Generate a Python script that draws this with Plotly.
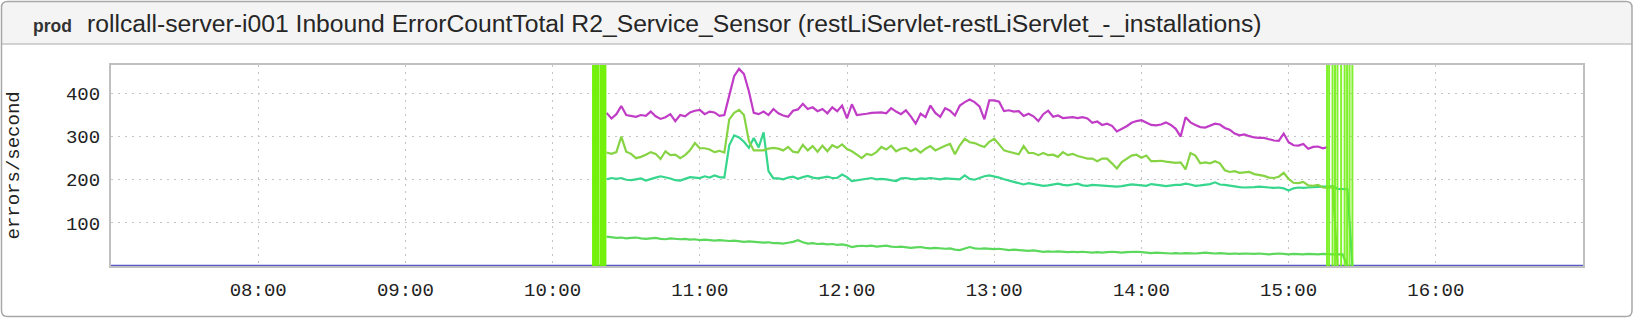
import plotly.graph_objects as go
import pandas as pd

DAY = "2015-06-01 "

# ---------------- data ----------------
# sample times every 2 minutes, 10:22 .. 15:26
times = [t.strftime("%Y-%m-%d %H:%M:%S") for t in pd.date_range(DAY + "10:22", DAY + "15:26", freq="2min")]

magenta = [
    355, 342, 352, 371, 350, 348, 346, 350, 348, 358, 347, 341, 345, 352, 336, 350, 347, 356, 360, 362,
    352, 358, 356, 348, 350, 395, 440, 457, 445, 405, 355, 352, 358, 350, 364, 354,
    349, 346, 360, 363, 376, 364, 368, 359, 364, 354, 368, 359, 372, 342, 375, 350, 351, 353, 355, 356,
    356, 354, 366, 358, 352, 361, 347, 330, 353, 345, 372, 355, 346, 366, 360, 349, 372, 380, 386, 380,
    370, 340, 384, 384, 381, 359, 361, 358, 359, 348, 353, 347, 336, 352, 360, 346, 349, 343, 344, 345,
    343, 345, 342, 332, 335, 327, 330, 325, 312, 318, 324, 332, 336, 338, 332, 327, 326, 328, 333,
    327, 318, 300, 345, 333, 327, 322, 321, 325, 330, 328, 320, 316, 307, 303, 305, 301, 298, 297, 297,
    294, 291, 290, 307, 287, 280, 279, 283, 272, 276, 277, 273, 276,
    None, None, None, None, None,
]

lightgreen = [
    263, 260, 264, 300, 265, 260, 250, 253, 258, 264, 260, 248, 266, 257, 258, 250, 257, 268, 285, 273,
    273, 270, 264, 267, 263, 340, 355, 362, 350, 290, 268, 268, 268, 272, 274, 272,
    268, 276, 265, 263, 281, 268, 278, 265, 279, 266, 280, 274, 282, 271, 266, 258, 250, 260, 257, 264,
    276, 270, 279, 266, 272, 274, 266, 272, 263, 272, 278, 268, 274, 279, 283, 259, 280, 295, 287, 285,
    280, 276, 288, 295, 282, 268, 265, 262, 259, 278, 262, 262, 257, 262, 257, 258, 253, 264, 257, 260,
    255, 252, 249, 249, 243, 249, 249, 238, 226, 241, 249, 256, 258, 251, 256, 243, 243, 244, 242,
    241, 239, 240, 224, 262, 256, 238, 240, 238, 243, 238, 222, 218, 220, 216, 217, 218, 213, 211, 209,
    205, 204, 207, 216, 202, 193, 192, 195, 187, 186, 188, 182, 181,
    184, 0, None, None, None,
]

teal = [
    201, 204, 202, 204, 200, 199, 201, 203, 198, 202, 205, 208, 206, 203, 199, 198, 202, 206, 205, 204,
    208, 205, 210, 206, 205, 280, 303, 298, 288, 274, 297, 275, 310, 220, 203, 203,
    201, 205, 207, 202, 206, 209, 205, 203, 205, 207, 204, 204, 212, 206, 197, 199, 201, 203, 204, 201,
    202, 201, 199, 197, 203, 204, 202, 201, 203, 202, 204, 202, 201, 203, 202, 201, 201, 210, 202, 200,
    204, 208, 210, 208, 205, 201, 198, 195, 191, 189, 192, 190, 188, 186, 187, 189, 191, 188, 187, 189,
    191, 187, 186, 188, 187, 186, 185, 184, 184, 185, 187, 189, 188, 187, 186, 190, 189, 187, 185,
    187, 188, 188, 191, 189, 186, 187, 188, 190, 194, 189, 188, 186, 184, 183, 182, 182, 183, 184, 183,
    182, 181, 182, 180, 175, 180, 182, 181, 182, 183, 183, 184, 184,
    185, 179, 178, 178, 0,
]

lowgreen = [
    68, 66, 65, 66, 64, 65, 66, 64, 63, 64, 65, 63, 62, 64, 63, 62, 63, 61, 62, 60,
    61, 60, 59, 60, 59, 58, 59, 57, 56, 57, 56, 55, 54, 55, 53, 53,
    52, 54, 56, 60, 55, 52, 53, 51, 52, 50, 51, 49, 50, 48, 44, 46, 47, 46, 47, 45,
    46, 47, 45, 44, 45, 43, 42, 43, 44, 42, 41, 42, 41, 40, 41, 38, 37, 40, 44, 41,
    40, 41, 40, 39, 40, 38, 37, 38, 37, 36, 35, 36, 34, 33, 34, 33, 34, 33, 32, 33,
    32, 33, 32, 31, 32, 31, 32, 33, 32, 31, 32, 33, 33, 32, 31, 30, 31, 30, 30,
    29, 30, 29, 30, 29, 29, 30, 31, 30, 29, 30, 29, 28, 29, 28, 29, 28, 28, 29, 28,
    27, 28, 29, 28, 27, 28, 27, 27, 28, 27, 27, 28, 27,
    27, 27, 27, 0, None,
]

zero_times = ["07:00", "17:00"]
zero_values = [0, 0]

start_events = ["10:17:30", "10:20:30"]
end_events = ["15:15:40", "15:16:30", "15:17:55", "15:18:55", "15:19:55",
              "15:21:25", "15:22:50", "15:23:50", "15:24:50", "15:26:00"]

xtick_labels = ["08:00", "09:00", "10:00", "11:00", "12:00", "13:00", "14:00", "15:00", "16:00"]
ytick_values = [100, 200, 300, 400]
y_max = 466

title_tag = "prod"
title_text = "rollcall-server-i001 Inbound ErrorCountTotal R2_Service_Sensor (restLiServlet-restLiServlet_-_installations)"
y_title = "errors/second"

# ---------------- figure ----------------
W, H = 1634, 318
L, R, T, B = 111, 1583, 65, 266


def px(x):
    return (x - L) / (R - L)


def py(y):
    return (B - y) / (B - T)


fig = go.Figure()

series = [
    ("zero", [DAY + t for t in zero_times], zero_values, "#5858c8", 2.5),
    ("low", times, lowgreen, "#5cd85c", 2.2),
    ("teal", times, teal, "#36d68c", 2.2),
    ("lightgreen", times, lightgreen, "#86d444", 2.2),
    ("magenta", times, magenta, "#c03cc6", 2.2),
]
for name, xs, ys, color, w in series:
    fig.add_trace(go.Scatter(x=xs, y=ys, mode="lines", name=name,
                             line=dict(color=color, width=w), connectgaps=False,
                             hoverinfo="skip", showlegend=False))

for t in start_events:
    fig.add_vline(x=DAY + t, line=dict(color="#6cf000", width=7), opacity=0.95)
for t in end_events:
    fig.add_vline(x=DAY + t, line=dict(color="#74f018", width=2), opacity=0.9)

# panel frame (rounded) and header
x0, x1, y0, y1, r = 1.5, W - 2, 1.5, H - 1.5, 6
hy = 44


def P(x, y):
    return f"{px(x):.6f},{py(y):.6f}"


panel_path = (f"M {P(x0 + r, y0)} L {P(x1 - r, y0)} Q {P(x1, y0)} {P(x1, y0 + r)} "
              f"L {P(x1, y1 - r)} Q {P(x1, y1)} {P(x1 - r, y1)} L {P(x0 + r, y1)} "
              f"Q {P(x0, y1)} {P(x0, y1 - r)} L {P(x0, y0 + r)} Q {P(x0, y0)} {P(x0 + r, y0)} Z")
header_path = (f"M {P(x0 + r, y0)} L {P(x1 - r, y0)} Q {P(x1, y0)} {P(x1, y0 + r)} "
               f"L {P(x1, hy)} L {P(x0, hy)} L {P(x0, y0 + r)} Q {P(x0, y0)} {P(x0 + r, y0)} Z")

fig.add_shape(type="path", path=header_path, xref="paper", yref="paper",
              fillcolor="#f4f4f4", line=dict(width=0), layer="below")
fig.add_shape(type="line", x0=px(x0), x1=px(x1), y0=py(hy), y1=py(hy), xref="paper", yref="paper",
              line=dict(color="#c4c4c4", width=1.5), layer="below")
fig.add_shape(type="path", path=panel_path, xref="paper", yref="paper",
              fillcolor="rgba(0,0,0,0)", line=dict(color="#a8a8a8", width=1.5), layer="below")

fig.add_annotation(text=f"<b>{title_tag}</b>", x=px(31), y=py(25.5), xref="paper", yref="paper",
                   xanchor="left", yanchor="middle", showarrow=False,
                   font=dict(family="Liberation Sans", size=17.5, color="#333333"))
fig.add_annotation(text=title_text, x=px(85), y=py(24), xref="paper", yref="paper",
                   xanchor="left", yanchor="middle", showarrow=False,
                   font=dict(family="Liberation Sans", size=24.7, color="#262626"))
fig.add_annotation(text=y_title, x=px(13), y=0.5, xref="paper", yref="paper",
                   xanchor="center", yanchor="middle", textangle=-90, showarrow=False,
                   font=dict(family="Liberation Mono", size=19, color="#222222"))

mono = dict(family="Liberation Mono", size=19, color="#222222")
fig.update_layout(
    width=W, height=H,
    margin=dict(l=L, r=W - R, t=T, b=H - B, pad=0),
    paper_bgcolor="white", plot_bgcolor="white",
    showlegend=False,
    xaxis=dict(type="date", range=[DAY + "07:00", DAY + "17:00"],
               tickvals=[DAY + t for t in xtick_labels], ticktext=xtick_labels,
               showgrid=True, gridcolor="#c4c4c4", gridwidth=1, griddash="2px,5px",
               showline=True, mirror=True, linecolor="#c0c0c0", linewidth=2,
               ticks="", tickfont=mono, ticklabelstandoff=5, zeroline=False, fixedrange=True),
    yaxis=dict(range=[0, y_max], tickvals=ytick_values,
               showgrid=True, gridcolor="#c4c4c4", gridwidth=1, griddash="2px,5px",
               showline=True, mirror=True, linecolor="#c0c0c0", linewidth=2,
               ticks="", tickfont=mono, ticklabelstandoff=5, zeroline=False, fixedrange=True),
)

fig.write_html("out.html")
